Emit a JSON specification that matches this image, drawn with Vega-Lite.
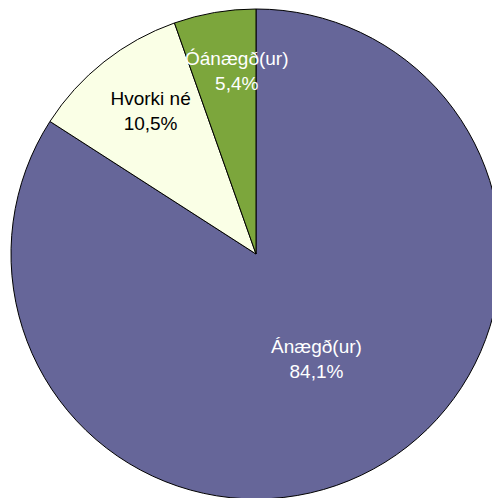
{
  "$schema": "https://vega.github.io/schema/vega-lite/v6.json",
  "width": 472,
  "height": 488,
  "autosize": "none",
  "padding": {"left": 20, "top": 10, "right": 0, "bottom": 0},
  "background": "white",
  "config": {"view": {"stroke": null}},
  "data": {
    "values": [
      {"cat": "Ánægð(ur)", "pct": 84.1, "pctText": "84,1%"},
      {"cat": "Hvorki né", "pct": 10.5, "pctText": "10,5%"},
      {"cat": "Óánægð(ur)", "pct": 5.4, "pctText": "5,4%"}
    ]
  },
  "transform": [{"calculate": "[datum.cat, datum.pctText]", "as": "lbl"}],
  "encoding": {
    "theta": {"field": "pct", "type": "quantitative", "stack": true},
    "order": {"field": "pct", "sort": "descending"}
  },
  "layer": [
    {
      "mark": {"type": "arc", "outerRadius": 245, "stroke": "black", "strokeWidth": 1},
      "encoding": {
        "color": {
          "field": "cat",
          "type": "nominal",
          "scale": {"domain": ["Ánægð(ur)", "Hvorki né", "Óánægð(ur)"], "range": ["#666699", "#FAFFE6", "#7CA63C"]},
          "legend": null
        }
      }
    },
    {
      "mark": {"type": "text", "radius": 120, "dx": 3, "dy": -12, "fill": "white", "fontSize": 19, "font": "Liberation Sans", "align": "center", "baseline": "middle", "lineHeight": 25},
      "encoding": {"text": {"condition": {"test": "datum.cat === 'Ánægð(ur)'", "field": "lbl"}, "value": ""}}
    },
    {
      "mark": {"type": "text", "radius": 178, "dx": 5, "dy": -15, "fill": "black", "fontSize": 19, "font": "Liberation Sans", "align": "center", "baseline": "middle", "lineHeight": 25},
      "encoding": {"text": {"condition": {"test": "datum.cat === 'Hvorki né'", "field": "lbl"}, "value": ""}}
    },
    {
      "mark": {"type": "text", "radius": 185, "dx": 12, "dy": -13, "fill": "white", "fontSize": 19, "font": "Liberation Sans", "align": "center", "baseline": "middle", "lineHeight": 25},
      "encoding": {"text": {"condition": {"test": "datum.cat === 'Óánægð(ur)'", "field": "lbl"}, "value": ""}}
    }
  ]
}
